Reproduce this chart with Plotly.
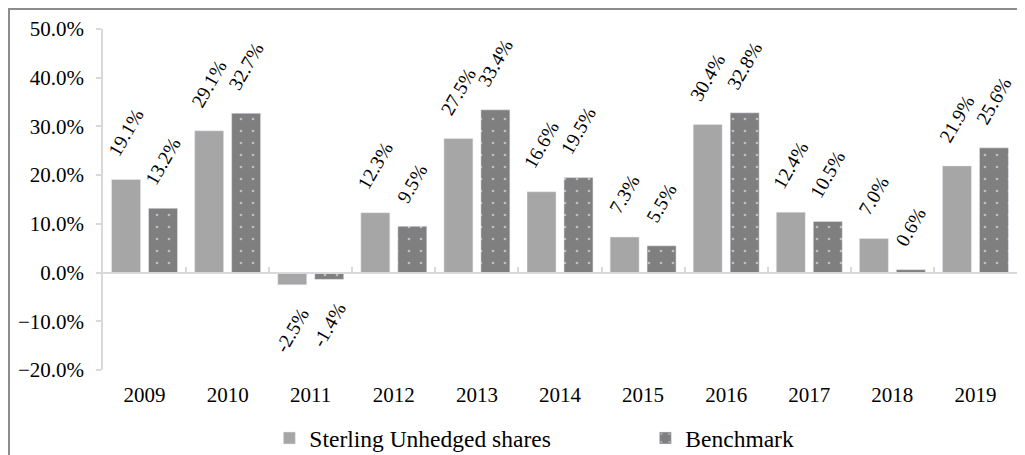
import plotly.graph_objects as go

years = ['2009', '2010', '2011', '2012', '2013', '2014', '2015', '2016', '2017', '2018', '2019']
sterling = [19.1, 29.1, -2.5, 12.3, 27.5, 16.6, 7.3, 30.4, 12.4, 7.0, 21.9]
benchmark = [13.2, 32.7, -1.4, 9.5, 33.4, 19.5, 5.5, 32.8, 10.5, 0.6, 25.6]
series_names = ['Sterling Unhedged shares', 'Benchmark']

FONT = 'Liberation Serif, Times New Roman, serif'
AXIS_GRAY = '#d9d9d9'
PAD = '\u00a0' * 4


def label(v):
    return f'{PAD}{v:.1f}%{PAD}'


fig = go.Figure()
fig.add_trace(go.Bar(
    x=years, y=sterling, name=series_names[0],
    marker=dict(color='#a6a6a6'),
    text=[label(v) for v in sterling], textposition='outside',
    textangle=-60, constraintext='none', cliponaxis=False,
    textfont=dict(family=FONT, size=19.5, color='black'),
))
fig.add_trace(go.Bar(
    x=years, y=benchmark, name=series_names[1],
    marker=dict(color='#7f7f7f',
                pattern=dict(shape='.', bgcolor='#7f7f7f', fgcolor='white',
                             size=12, solidity=0.04, fillmode='overlay')),
    text=[label(v) for v in benchmark], textposition='outside',
    textangle=-60, constraintext='none', cliponaxis=False,
    textfont=dict(family=FONT, size=19.5, color='black'),
))
# helper trace to carry the zero-line axis with category-boundary ticks
fig.add_trace(go.Scatter(x=years, y=[None] * len(years), xaxis='x2',
                         showlegend=False, hoverinfo='skip', mode='lines'))

ymin, ymax = -20, 50
fig.update_layout(
    width=1017, height=447,
    margin=dict(l=95, r=8, t=21, b=85, autoexpand=False),
    paper_bgcolor='white', plot_bgcolor='white',
    font=dict(family=FONT, color='black', size=21),
    barmode='group', bargap=0.11, bargroupgap=0.216,
    showlegend=True,
    legend=dict(orientation='h', x=0.182, xanchor='left', y=-0.2, yanchor='middle',
                font=dict(family=FONT, size=23.5, color='black'),
                entrywidth=331, entrywidthmode='pixels',
                traceorder='normal', bgcolor='rgba(0,0,0,0)'),
    xaxis=dict(type='category', categoryarray=years, range=[-0.5, 10.5],
               showline=False, ticks='', showgrid=False, zeroline=False,
               tickfont=dict(family=FONT, size=21, color='black'),
               ticklabelstandoff=10),
    xaxis2=dict(type='category', categoryarray=years, range=[-0.5, 10.5],
                overlaying='x', anchor='free', position=(0 - ymin) / (ymax - ymin),
                showline=True, linecolor=AXIS_GRAY, linewidth=1.5,
                ticks='inside', tickson='boundaries', ticklen=5, tickwidth=1.5,
                tickcolor=AXIS_GRAY, showticklabels=False, showgrid=False,
                zeroline=False),
    yaxis=dict(range=[ymin, ymax], dtick=10, tick0=0, tickformat='.1f', ticksuffix='%',
               showline=True, linecolor=AXIS_GRAY, linewidth=1.5,
               ticks='outside', ticklen=5, tickwidth=1.5, tickcolor=AXIS_GRAY,
               showgrid=False, zeroline=False,
               tickfont=dict(family=FONT, size=21, color='black'),
               ticklabelstandoff=8),
    shapes=[dict(type='rect', xref='paper', yref='paper',
                 x0=(9 - 103) / 914, x1=1.2, y0=-0.6, y1=(370 - 9) / 341,
                 line=dict(color='#8c8c8c', width=2), fillcolor='rgba(0,0,0,0)',
                 layer='below')],
)

fig.write_html('out.html')
